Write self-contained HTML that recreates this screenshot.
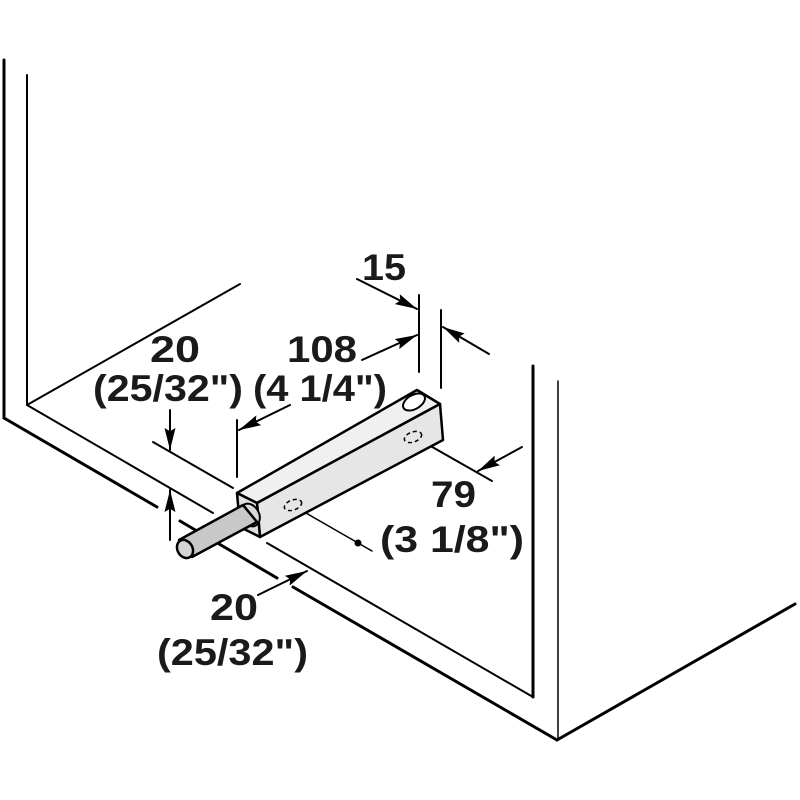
<!DOCTYPE html>
<html><head><meta charset="utf-8"><style>html,body{margin:0;padding:0;background:#fff}svg{display:block}</style></head>
<body>
<svg width="800" height="800" viewBox="0 0 800 800" xmlns="http://www.w3.org/2000/svg">
<defs>
<marker id="ar" viewBox="0 0 20 10" refX="20" refY="5" markerWidth="22" markerHeight="11" markerUnits="userSpaceOnUse" orient="auto">
<path d="M0,0 L20,5 L0,10 L3,5 z" fill="#000"/></marker>
</defs>
<g stroke="#000" fill="none" stroke-linecap="round">
<line x1="4" y1="60" x2="4" y2="418" stroke-width="3"/>
<line x1="27" y1="75" x2="27" y2="405" stroke-width="2"/>
<line x1="27" y1="405" x2="240" y2="284" stroke-width="2"/>
<line x1="4" y1="418" x2="157" y2="507" stroke-width="3"/>
<line x1="180" y1="521" x2="277" y2="578" stroke-width="3"/>
<line x1="293" y1="587" x2="557" y2="740" stroke-width="3"/>
<line x1="557" y1="740" x2="795" y2="604" stroke-width="3"/>
<line x1="558" y1="381" x2="558" y2="740" stroke-width="1.5"/>
<line x1="533" y1="366" x2="533" y2="697" stroke-width="3"/>
<line x1="27" y1="405" x2="213" y2="513" stroke-width="2"/>
<line x1="267" y1="543" x2="533" y2="697" stroke-width="2"/>
<line x1="153" y1="442" x2="233" y2="488" stroke-width="2"/>
<line x1="237" y1="420" x2="237" y2="477" stroke-width="2"/>
<line x1="419" y1="295" x2="419" y2="372" stroke-width="2"/>
<line x1="441" y1="310" x2="441" y2="388" stroke-width="2"/>
<line x1="420" y1="440" x2="492" y2="481" stroke-width="2"/>
<line x1="170" y1="410" x2="170" y2="450" stroke-width="2" marker-end="url(#ar)"/>
<line x1="170" y1="540" x2="170" y2="490" stroke-width="2" marker-end="url(#ar)"/>
<line x1="290" y1="405" x2="239" y2="430" stroke-width="2" marker-end="url(#ar)"/>
<line x1="362" y1="360" x2="417" y2="335" stroke-width="2" marker-end="url(#ar)"/>
<line x1="357" y1="279" x2="417" y2="309" stroke-width="2" marker-end="url(#ar)"/>
<line x1="489" y1="354" x2="443" y2="327" stroke-width="2" marker-end="url(#ar)"/>
<line x1="522" y1="447" x2="478" y2="471" stroke-width="2" marker-end="url(#ar)"/>
<line x1="258" y1="595" x2="307" y2="571" stroke-width="2" marker-end="url(#ar)"/>
<line x1="292" y1="505" x2="372" y2="551" stroke-width="1.5"/>
</g>
<circle cx="358" cy="543" r="3.5" fill="#000"/>
<g stroke="#000" stroke-width="2.5" stroke-linejoin="round">
<polygon points="237,493 417,390 440,404 257,503" fill="#f0f0f0"/>
<polygon points="257,503 440,404 443,440 260,537" fill="#e6e6e6"/>
<polygon points="237,493 257,503 260,537 240,527" fill="#e0e0e0"/>
<ellipse cx="250" cy="515" rx="9" ry="12" transform="rotate(-30 250 515)" fill="#d8d8d8" stroke-width="2"/>
<polygon points="243,505 257,522 192,557 179,540" fill="#c8c8c8" stroke-width="2.5"/>
<ellipse cx="185" cy="549" rx="7.5" ry="9.5" transform="rotate(-30 185 549)" fill="#d4d4d4" stroke-width="2.5"/>
<ellipse cx="414" cy="402" rx="12" ry="7" transform="rotate(-30 414 402)" fill="#fff" stroke-width="2"/>
</g>
<g fill="none" stroke="#000" stroke-width="1.5" stroke-dasharray="4,3">
<ellipse cx="293" cy="505" rx="9" ry="5" transform="rotate(-20 293 505)"/>
<ellipse cx="413" cy="437" rx="9" ry="5" transform="rotate(-20 413 437)"/>
</g>
<g font-family="Liberation Sans, Arial, sans-serif" font-weight="bold" font-size="37" fill="#1a1a1a">
<text x="362" y="280" textLength="44" lengthAdjust="spacingAndGlyphs">15</text>
<text x="150" y="362" textLength="50" lengthAdjust="spacingAndGlyphs">20</text>
<text x="93" y="401" textLength="150" lengthAdjust="spacingAndGlyphs">(25/32")</text>
<text x="287" y="362" textLength="70" lengthAdjust="spacingAndGlyphs">108</text>
<text x="253" y="401" textLength="134" lengthAdjust="spacingAndGlyphs">(4 1/4")</text>
<text x="431" y="507" textLength="45" lengthAdjust="spacingAndGlyphs">79</text>
<text x="380" y="552" textLength="144" lengthAdjust="spacingAndGlyphs">(3 1/8")</text>
<text x="210" y="620" textLength="48" lengthAdjust="spacingAndGlyphs">20</text>
<text x="157" y="665" textLength="151" lengthAdjust="spacingAndGlyphs">(25/32")</text>
</g>
</svg>
</body></html>
